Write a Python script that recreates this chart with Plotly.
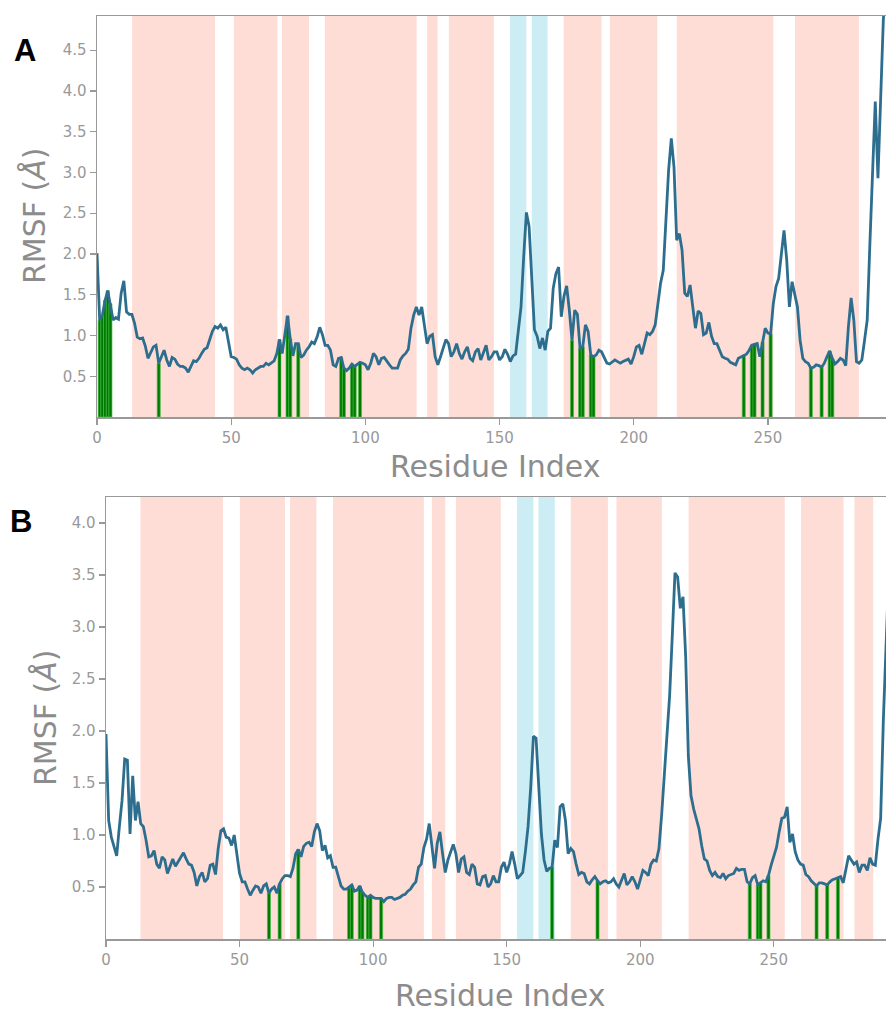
import plotly.graph_objects as go

# ---------------- data ----------------
rmsf_a = [
    2.01, 1.19, 1.25, 1.43, 1.55, 1.39, 1.19, 1.22, 1.20, 1.52,
    1.67, 1.29, 1.26, 1.26, 1.15, 0.98, 0.96, 0.97, 0.87, 0.72,
    0.80, 0.86, 0.88, 0.66, 0.74, 0.82, 0.70, 0.62, 0.73, 0.71,
    0.65, 0.62, 0.62, 0.60, 0.55, 0.62, 0.69, 0.68, 0.72, 0.78,
    0.83, 0.85, 0.94, 1.05, 1.11, 1.09, 1.13, 1.07, 1.10, 0.90,
    0.74, 0.73, 0.71, 0.64, 0.60, 0.58, 0.60, 0.58, 0.54, 0.58,
    0.60, 0.62, 0.62, 0.66, 0.64, 0.67, 0.69, 0.78, 0.95, 0.78,
    1.03, 1.24, 0.96, 0.75, 0.90, 0.90, 0.73, 0.76, 0.82, 0.86,
    0.92, 0.90, 0.98, 1.10, 1.01, 0.88, 0.88, 0.82, 0.64, 0.62,
    0.72, 0.73, 0.60, 0.57, 0.60, 0.65, 0.62, 0.65, 0.67, 0.66,
    0.64, 0.58, 0.66, 0.78, 0.74, 0.64, 0.72, 0.73, 0.68, 0.64,
    0.60, 0.60, 0.60, 0.70, 0.75, 0.78, 0.83, 1.09, 1.25, 1.35,
    1.25, 1.35, 1.15, 0.90, 0.99, 1.01, 0.74, 0.64, 0.74, 0.84,
    0.95, 0.90, 0.74, 0.80, 0.90, 0.78, 0.71, 0.80, 0.86, 0.72,
    0.69, 0.80, 0.84, 0.70, 0.78, 0.88, 0.70, 0.74, 0.80, 0.80,
    0.70, 0.74, 0.83, 0.77, 0.68, 0.75, 0.77, 1.03, 1.35, 1.97,
    2.51, 2.34, 1.72, 1.07, 0.99, 0.84, 0.97, 0.82, 1.05, 1.09,
    1.58, 1.76, 1.84, 1.23, 1.48, 1.61, 1.31, 0.94, 1.31, 1.26,
    0.84, 0.86, 1.13, 1.05, 0.76, 0.74, 0.76, 0.82, 0.80, 0.73,
    0.66, 0.65, 0.68, 0.70, 0.68, 0.66, 0.68, 0.70, 0.71, 0.65,
    0.74, 0.86, 0.88, 0.77, 0.90, 1.03, 1.01, 1.05, 1.13, 1.39,
    1.64, 1.80, 2.34, 3.03, 3.42, 3.07, 2.17, 2.25, 2.05, 1.52,
    1.48, 1.62, 1.35, 1.09, 1.30, 1.27, 1.01, 1.03, 1.16, 0.99,
    0.90, 0.90, 0.82, 0.74, 0.72, 0.71, 0.67, 0.65, 0.64, 0.72,
    0.74, 0.76, 0.77, 0.82, 0.88, 0.89, 0.90, 0.74, 0.92, 1.09,
    1.03, 1.02, 1.39, 1.60, 1.70, 2.01, 2.29, 1.93, 1.35, 1.66,
    1.52, 1.35, 0.94, 0.72, 0.68, 0.66, 0.60, 0.61, 0.64, 0.63,
    0.61, 0.66, 0.74, 0.81, 0.72, 0.65, 0.68, 0.72, 0.70, 0.63,
    1.11, 1.46, 1.19, 0.68, 0.66, 0.70, 0.94, 1.19, 2.13, 3.03,
    3.87, 2.93, 3.93, 4.87, 5.30,
]

rmsf_b = [
    1.97, 1.14, 0.98, 0.90, 0.80, 1.08, 1.33, 1.73, 1.72, 1.01,
    1.57, 1.14, 1.32, 1.11, 1.08, 0.95, 0.79, 0.80, 0.85, 0.72,
    0.68, 0.79, 0.76, 0.63, 0.71, 0.77, 0.70, 0.74, 0.78, 0.83,
    0.77, 0.72, 0.71, 0.64, 0.51, 0.60, 0.64, 0.55, 0.58, 0.71,
    0.72, 0.62, 0.87, 1.04, 1.06, 0.98, 0.97, 0.90, 1.00, 0.79,
    0.63, 0.55, 0.55, 0.48, 0.42, 0.47, 0.51, 0.50, 0.44, 0.51,
    0.53, 0.44, 0.48, 0.50, 0.44, 0.53, 0.58, 0.61, 0.61, 0.60,
    0.68, 0.82, 0.86, 0.79, 0.89, 0.92, 0.93, 0.89, 1.03, 1.11,
    1.04, 0.85, 0.90, 0.78, 0.80, 0.69, 0.69, 0.60, 0.51, 0.48,
    0.48, 0.50, 0.52, 0.46, 0.47, 0.51, 0.45, 0.42, 0.40, 0.42,
    0.40, 0.39, 0.39, 0.39, 0.36, 0.39, 0.40, 0.40, 0.38, 0.39,
    0.40, 0.42, 0.43, 0.46, 0.48, 0.52, 0.55, 0.69, 0.72, 0.88,
    0.96, 1.11, 0.90, 0.68, 0.92, 1.03, 0.82, 0.64, 0.76, 0.84,
    0.91, 0.82, 0.64, 0.77, 0.79, 0.64, 0.62, 0.72, 0.69, 0.53,
    0.52, 0.60, 0.61, 0.50, 0.53, 0.61, 0.55, 0.55, 0.69, 0.74,
    0.64, 0.72, 0.84, 0.72, 0.58, 0.61, 0.64, 0.84, 1.08, 1.46,
    1.95, 1.93, 1.52, 1.01, 0.76, 0.65, 0.68, 0.69, 0.95, 0.88,
    1.27, 1.30, 1.14, 0.82, 0.87, 0.84, 0.72, 0.62, 0.64, 0.63,
    0.55, 0.53, 0.57, 0.60, 0.56, 0.53, 0.55, 0.56, 0.54, 0.55,
    0.58, 0.53, 0.50, 0.56, 0.63, 0.52, 0.55, 0.60, 0.55, 0.48,
    0.58, 0.66, 0.64, 0.61, 0.72, 0.76, 0.75, 0.87, 1.19, 1.60,
    1.96, 2.34, 2.92, 3.52, 3.48, 3.18, 3.29, 2.72, 1.76, 1.38,
    1.25, 1.14, 1.06, 0.90, 0.77, 0.75, 0.66, 0.61, 0.64, 0.60,
    0.59, 0.63, 0.58, 0.61, 0.62, 0.63, 0.68, 0.66, 0.67, 0.67,
    0.55, 0.53, 0.59, 0.61, 0.52, 0.54, 0.56, 0.55, 0.61, 0.71,
    0.80, 0.88, 1.03, 1.16, 1.17, 1.27, 0.93, 1.01, 0.84, 0.76,
    0.72, 0.71, 0.62, 0.60, 0.56, 0.53, 0.51, 0.54, 0.54, 0.53,
    0.52, 0.55, 0.57, 0.58, 0.59, 0.60, 0.54, 0.68, 0.80, 0.76,
    0.72, 0.74, 0.64, 0.71, 0.71, 0.66, 0.78, 0.72, 0.71, 0.96,
    1.16, 2.10, 2.75, 3.50,
]

# ligand-contact residues (green bars)
contacts_a = [1, 2, 3, 4, 5, 23, 68, 71, 72, 75, 91, 92, 95, 96, 98,
              177, 180, 181, 184, 185, 241, 244, 245, 248, 251, 266, 270, 273, 274]
contacts_b = [61, 65, 72, 91, 92, 95, 96, 98, 99, 103, 167, 184,
              241, 244, 245, 248, 266, 270, 274]

# secondary structure regions (residue start, end)
helix_a = [(13.1, 44.0), (51.0, 67.2), (68.9, 79.0), (84.9, 119.1), (123.0, 126.9),
           (131.1, 147.9), (173.9, 188.0), (191.1, 208.8), (216.0, 252.0), (260.1, 283.9)]
strand_a = [(153.9, 160.0), (162.0, 167.9)]
helix_b = [(12.9, 43.8), (50.1, 67.0), (68.9, 78.8), (85.0, 119.0), (122.0, 127.0),
           (131.0, 147.8), (174.0, 187.9), (191.1, 208.1), (218.1, 254.1), (260.2, 276.1),
           (280.2, 287.2)]
strand_b = [(153.9, 160.0), (161.9, 168.0)]

x_ticks = [0, 50, 100, 150, 200, 250]
y_ticks_a = [0.5, 1.0, 1.5, 2.0, 2.5, 3.0, 3.5, 4.0, 4.5]
y_ticks_b = [0.5, 1.0, 1.5, 2.0, 2.5, 3.0, 3.5, 4.0]
x_range_a = [0, 294]
y_range_a = [0, 4.92]
x_range_b = [0, 292]
y_range_b = [0, 4.25]

# ---------------- styles ----------------
W, H = 886, 1021
LINE_COLOR = "#2d6e8e"
HELIX_COLOR = "#ffddd7"
STRAND_COLOR = "#cdedf5"
BAR_COLOR = "#007a00"
BAR_EDGE = "#4cbf4c"
GRAY = "#999999"
TXT_GRAY = "#8c8c8c"
FONT = "DejaVu Sans"

fig = go.Figure()

def add_panel(rmsf, contacts, xa, ya):
    fig.add_trace(go.Bar(
        x=contacts, y=[rmsf[i] for i in contacts], width=1.15,
        marker=dict(color=BAR_COLOR, line=dict(color=BAR_EDGE, width=0.7)),
        xaxis=xa, yaxis=ya, showlegend=False, hoverinfo="skip"))
    fig.add_trace(go.Scatter(
        x=list(range(len(rmsf))), y=rmsf, mode="lines",
        line=dict(color=LINE_COLOR, width=2.8),
        xaxis=xa, yaxis=ya, showlegend=False, hoverinfo="skip"))

add_panel(rmsf_a, contacts_a, "x", "y")
add_panel(rmsf_b, contacts_b, "x2", "y2")

shapes = []
for regions, color, xr, yr in [(helix_a, HELIX_COLOR, "x", "y domain"),
                               (strand_a, STRAND_COLOR, "x", "y domain"),
                               (helix_b, HELIX_COLOR, "x2", "y2 domain"),
                               (strand_b, STRAND_COLOR, "x2", "y2 domain")]:
    for s, e in regions:
        shapes.append(dict(type="rect", xref=xr, yref=yr, x0=s, x1=e, y0=0, y1=1,
                           fillcolor=color, line=dict(width=0), layer="below"))

def px_x(p):
    return p / W

def px_y(p):
    return 1 - p / H

axis_common = dict(showgrid=False, zeroline=False, showline=True, linecolor=GRAY,
                   linewidth=1.5, mirror=True, ticks="outside", ticklen=6,
                   tickcolor=GRAY, tickwidth=1.2, automargin=False,
                   tickfont=dict(family=FONT, size=15, color=GRAY))

fig.update_layout(
    width=W, height=H, margin=dict(l=0, r=0, t=0, b=0, pad=0),
    paper_bgcolor="white", plot_bgcolor="white",
    barmode="overlay", bargap=0,
    shapes=shapes,
    xaxis=dict(domain=[px_x(97), 1], range=x_range_a, tickvals=x_ticks,
               anchor="y", **axis_common),
    yaxis=dict(domain=[px_y(417), px_y(16)], range=y_range_a, tickvals=y_ticks_a,
               tickformat=".1f", anchor="x", **axis_common),
    xaxis2=dict(domain=[px_x(106), 1], range=x_range_b, tickvals=x_ticks,
                anchor="y2", **axis_common),
    yaxis2=dict(domain=[px_y(939), px_y(497)], range=y_range_b, tickvals=y_ticks_b,
                tickformat=".1f", anchor="x2", **axis_common),
)

title_font = dict(family=FONT, size=30, color=TXT_GRAY)
letter_font = dict(family="Liberation Sans", size=31, color="black")
annotations = [
    dict(text="RMSF (<i>Å</i>)", x=px_x(35), y=px_y(216), textangle=-90, font=title_font),
    dict(text="Residue Index", x=px_x(495), y=px_y(466), font=title_font),
    dict(text="RMSF (<i>Å</i>)", x=px_x(45), y=px_y(718), textangle=-90, font=title_font),
    dict(text="Residue Index", x=px_x(500), y=px_y(995), font=title_font),
    dict(text="<b>A</b>", x=px_x(25), y=px_y(51), font=letter_font),
    dict(text="<b>B</b>", x=px_x(21), y=px_y(521), font=letter_font),
]
for a in annotations:
    a.update(xref="paper", yref="paper", showarrow=False, xanchor="center", yanchor="middle")
fig.update_layout(annotations=annotations)

fig.write_html(
    "out.html",
    config={"displayModeBar": False, "staticPlot": True},
    post_script="document.body.style.margin='0';document.body.style.padding='0';"
                "document.body.style.overflow='hidden';",
)
